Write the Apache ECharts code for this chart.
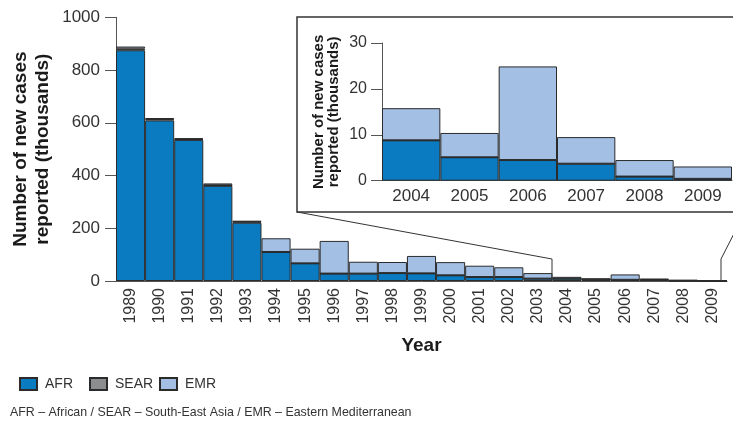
<!DOCTYPE html>
<html>
<head>
<meta charset="utf-8">
<script src="https://cdn.jsdelivr.net/npm/echarts@6/dist/echarts.min.js"></script>
<style>html,body{margin:0;padding:0;background:#fff}#c{width:733px;height:425px}</style>
</head>
<body>
<div id="c"></div>
<script>
const years = ['1989','1990','1991','1992','1993','1994','1995','1996','1997','1998','1999','2000','2001','2002','2003','2004','2005','2006','2007','2008','2009'];
const afr  = [875, 609, 535, 361, 221, 110, 67, 28, 28, 30, 29, 21.6, 15, 15, 9, 8.8, 5.1, 4.5, 3.7, 0.9, 0.4];
const sear = [6, 5, 3, 2, 4, 0, 0, 0, 0, 0, 0, 0, 0, 0, 0, 0, 0, 0, 0, 0, 0];
const emr  = [8, 4, 3, 7, 2.5, 52, 55.5, 124, 45, 42, 66, 50, 43, 37, 21, 7.0, 5.3, 20.4, 5.8, 3.6, 2.7];
const insetStart = 15; // 2004
const mainTicks = [0, 200, 400, 600, 800, 1000];
const insetTicks = [0, 10, 20, 30];
const legendNames = ['AFR', 'SEAR', 'EMR'];

const FONT = "'Liberation Sans',Arial,sans-serif";
const colors = {AFR:'#0a7bc1', SEAR:'#8c8d8f', EMR:'#a3bfe4'};
const border = '#2b2b2b';
const axisCol = '#555';
const plain = v => String(v);

function bars(name, data, xi, yi, z) {
  return {
    name, type:'bar', stack: 's' + xi, data, xAxisIndex: xi, yAxisIndex: yi,
    barCategoryGap: '0%', z,
    itemStyle: {color: colors[name], borderColor: border, borderWidth: 1}
  };
}

const legendLefts = [19, 89, 159];
const chart = echarts.init(document.getElementById('c'));
const option = {
  animation: false,
  textStyle: {fontFamily: FONT},
  legend: legendNames.map((n, i) => ({
    data: [n], left: legendLefts[i], top: 377, itemWidth: 17, itemHeight: 12,
    icon: 'rect', padding: 0,
    textStyle: {fontFamily: FONT, fontSize: 14, color: '#333', padding: [0, 0, 0, 3]}
  })),
  grid: [
    {left: 116, top: 17.3, width: 611, height: 263.7, outerBoundsMode: 'none', containLabel: false},
    {left: 382, top: 43, width: 350, height: 137.7, z: 10, outerBoundsMode: 'none', containLabel: false}
  ],
  xAxis: [
    {
      type: 'category', data: years, gridIndex: 0,
      axisLine: {lineStyle: {color: axisCol, width: 1}},
      axisTick: {show: false},
      axisLabel: {rotate: 90, interval: 0, margin: 7, fontSize: 16, fontFamily: FONT, color: '#333'},
      name: 'Year', nameLocation: 'middle', nameGap: 55, nameMoveOverlap: false,
      nameTextStyle: {fontFamily: FONT, fontWeight: 'bold', fontSize: 19, color: '#1a1a1a'}
    },
    {
      type: 'category', data: years.slice(insetStart), gridIndex: 1, z: 10,
      axisLine: {lineStyle: {color: axisCol, width: 1}},
      axisTick: {show: false},
      axisLabel: {interval: 0, margin: 7, fontSize: 17, fontFamily: FONT, color: '#333'}
    }
  ],
  yAxis: [
    {
      type: 'value', gridIndex: 0, min: mainTicks[0], max: mainTicks[mainTicks.length-1], interval: 200,
      axisLine: {show: true, lineStyle: {color: axisCol, width: 1}},
      axisTick: {show: true, length: 11, lineStyle: {color: axisCol}},
      splitLine: {show: false},
      axisLabel: {margin: 16, fontSize: 17, fontFamily: FONT, color: '#333', formatter: plain},
      name: 'Number of new cases\nreported (thousands)', nameLocation: 'middle', nameRotate: 90, nameGap: 62,
      nameMoveOverlap: false,
      nameTextStyle: {fontFamily: FONT, fontWeight: 'bold', fontSize: 19, lineHeight: 22, color: '#1a1a1a'}
    },
    {
      type: 'value', gridIndex: 1, min: insetTicks[0], max: insetTicks[insetTicks.length-1], interval: 10, z: 10,
      axisLine: {show: true, lineStyle: {color: axisCol, width: 1}},
      axisTick: {show: true, length: 11, lineStyle: {color: axisCol}},
      splitLine: {show: false},
      axisLabel: {margin: 15, fontSize: 16, fontFamily: FONT, color: '#333', formatter: plain},
      name: 'Number of new cases\nreported (thousands)', nameLocation: 'middle', nameRotate: 90, nameGap: 41,
      nameMoveOverlap: false,
      nameTextStyle: {fontFamily: FONT, fontWeight: 'bold', fontSize: 15, lineHeight: 15, color: '#1a1a1a'}
    }
  ],
  series: [
    bars('AFR', afr, 0, 0, 2),
    bars('SEAR', sear, 0, 0, 2),
    bars('EMR', emr, 0, 0, 2),
    bars('AFR', afr.slice(insetStart), 1, 1, 12),
    bars('SEAR', sear.slice(insetStart), 1, 1, 12),
    bars('EMR', emr.slice(insetStart), 1, 1, 12)
  ],
  graphic: [
    {type: 'rect', z: 5, shape: {x: 297, y: 17, width: 470, height: 195},
     style: {fill: '#fff', stroke: '#333', lineWidth: 1.5}},
    {type: 'polyline', z: 5, shape: {points: [[297, 212], [552, 259], [552, 281]]},
     style: {fill: null, stroke: '#333', lineWidth: 1}},
    {type: 'polyline', z: 5, shape: {points: [[721, 281], [721, 259], [745, 212]]},
     style: {fill: null, stroke: '#333', lineWidth: 1}},
    {type: 'text', left: 10, top: 407, z: 5,
     style: {text: 'AFR – African / SEAR – South-East Asia / EMR – Eastern Mediterranean',
             font: "12.4px " + FONT, fill: '#333'}}
  ]
};
chart.setOption(option);
</script>
</body>
</html>
